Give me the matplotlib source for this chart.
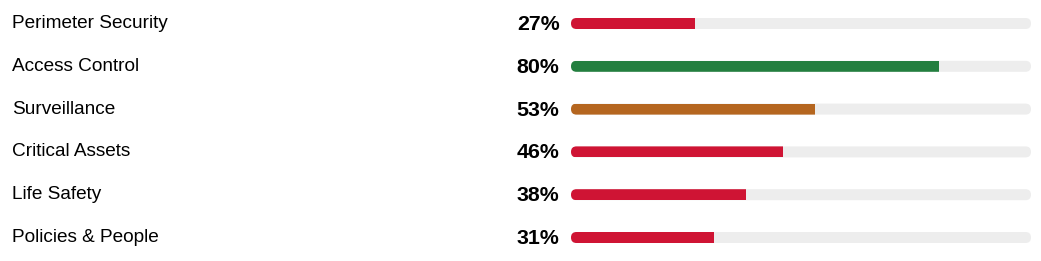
import matplotlib
matplotlib.use("Agg")
import matplotlib.pyplot as plt
from matplotlib.patches import FancyBboxPatch

categories = ["Perimeter Security", "Access Control", "Surveillance",
              "Critical Assets", "Life Safety", "Policies & People"]
values = [27, 80, 53, 46, 38, 31]
colors = ["#CF1434", "#237F3F", "#B5661F", "#CF1434", "#CF1434", "#CF1434"]
track_color = "#EDEDED"

W, H = 1041, 261
fig = plt.figure(figsize=(W / 100, H / 100), dpi=100)
fig.patch.set_facecolor("white")

row_y0, row_step = 23.5, 42.8
rows = [row_y0 + i * row_step for i in range(len(categories))]

# text axes in pixel coords
tax = fig.add_axes([0, 0, 1, 1])
tax.set_xlim(0, W)
tax.set_ylim(H, 0)
tax.axis("off")

# bar axes
bx0, bx1 = 571, 1031
bax = fig.add_axes([bx0 / W, 0, (bx1 - bx0) / W, 1])
bax.set_xlim(0, 100)
bax.set_ylim(H, 0)
bax.axis("off")

bar_h = 11
px_per_unit = (bx1 - bx0) / 100
r = (bar_h / 2) / px_per_unit  # x radius in data units

for cat, v, c, y in zip(categories, values, colors, rows):
    tax.text(12.5, y + 4.5, cat, fontsize=13.7, family="Liberation Sans",
             color="#000000", ha="left", va="baseline")
    tax.text(559.5, y + 6.6, f"{v}%", fontsize=15.4, family="Liberation Sans",
             fontweight="bold", color="#000000", ha="right", va="baseline")
    track = FancyBboxPatch((0, y - bar_h / 2), 100, bar_h,
                           boxstyle=f"round,pad=0,rounding_size={r}",
                           mutation_aspect=(bar_h / 2) / r,
                           facecolor=track_color, edgecolor="none", zorder=1)
    bax.add_patch(track)
    bars = bax.barh(y, v, left=0, height=bar_h, color=c, zorder=2, linewidth=0)
    for b in bars:
        b.set_clip_path(track)

fig.savefig("out.png", dpi=100, facecolor="white")
